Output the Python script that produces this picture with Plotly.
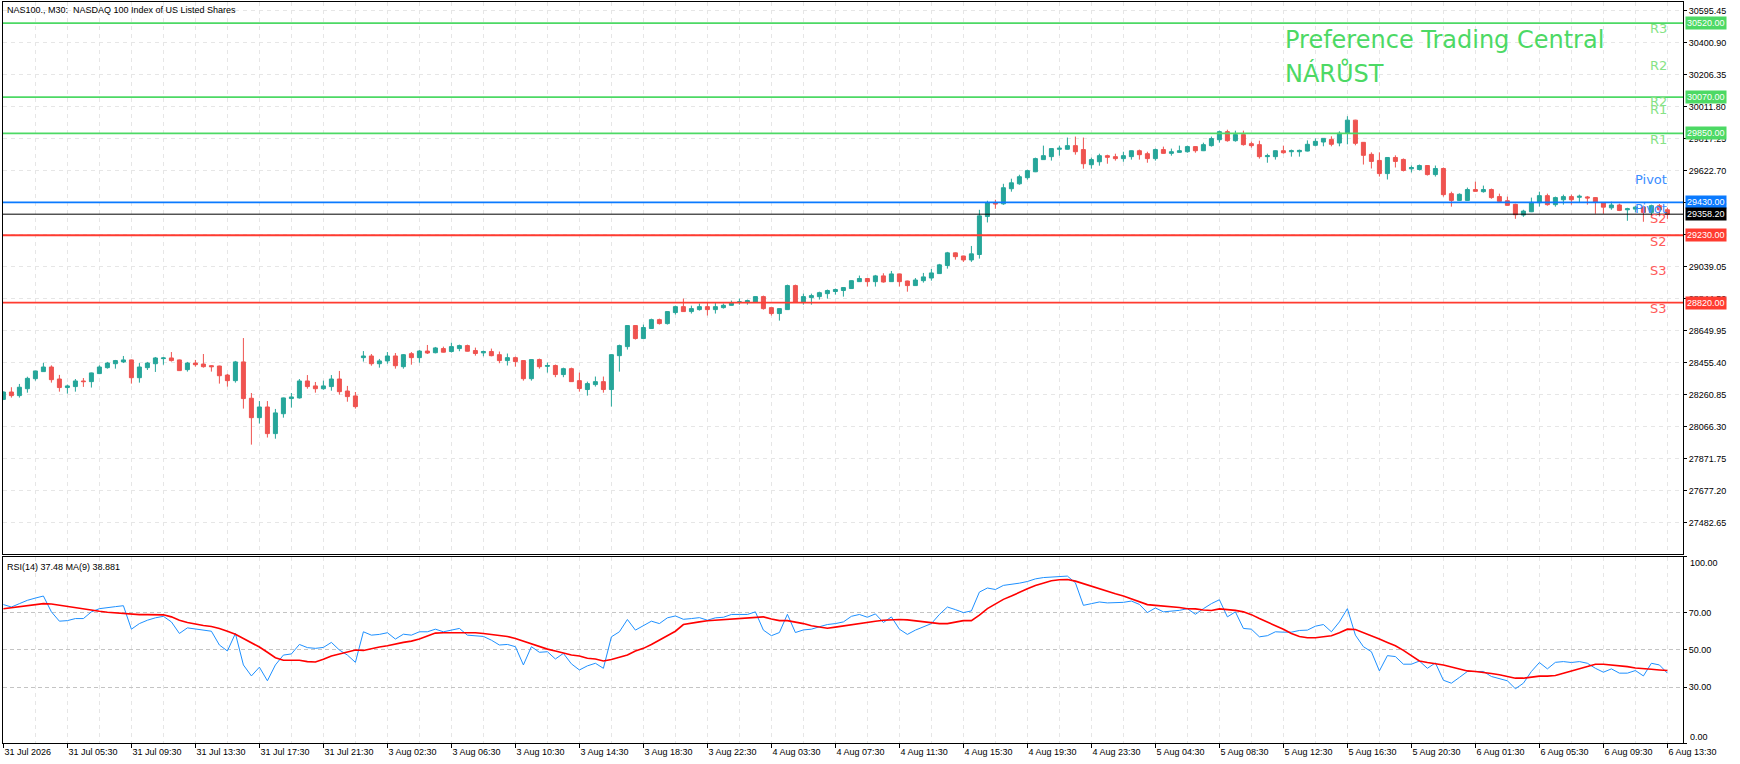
import plotly.graph_objects as go

# ---- data (NAS100., M30) ----
bar_idx = list(range(209))

opens = [
    28232, 28277, 28255, 28297, 28358, 28401, 28429, 28356, 28304, 28310,
    28344, 28340, 28389, 28425, 28449, 28460, 28472, 28364, 28425, 28449,
    28480, 28484, 28472, 28413, 28453, 28447, 28437, 28435, 28380, 28346,
    28460, 28239, 28121, 28186, 28024, 28145, 28237, 28241, 28344, 28314,
    28297, 28310, 28356, 28283, 28253, 28486, 28496, 28449, 28466, 28496,
    28431, 28510, 28486, 28526, 28516, 28541, 28523, 28541, 28559, 28529,
    28515, 28523, 28504, 28468, 28486, 28468, 28358, 28474, 28433, 28438,
    28383, 28419, 28346, 28292, 28322, 28340, 28292, 28498, 28553, 28681,
    28602, 28663, 28717, 28693, 28760, 28796, 28766, 28778, 28796, 28778,
    28790, 28804, 28821, 28821, 28821, 28857, 28790, 28754, 28778, 28924,
    28821, 28851, 28857, 28875, 28888, 28894, 28906, 28948, 28967, 28948,
    28983, 28948, 28995, 28952, 28924, 28954, 28970, 28997, 29046, 29123,
    29104, 29080, 29113, 29344, 29427, 29421, 29513, 29543, 29580, 29616,
    29690, 29708, 29753, 29753, 29775, 29751, 29659, 29677, 29714, 29708,
    29696, 29708, 29744, 29726, 29696, 29751, 29728, 29734, 29738, 29769,
    29744, 29775, 29811, 29860, 29805, 29842, 29787, 29781, 29708, 29708,
    29744, 29738, 29738, 29742, 29777, 29797, 29813, 29791, 29850, 29930,
    29795, 29722, 29685, 29605, 29703, 29691, 29634, 29630, 29654, 29599,
    29636, 29483, 29442, 29442, 29508, 29495, 29508, 29465, 29440, 29418,
    29353, 29373, 29428, 29471, 29416, 29446, 29465, 29461, 29463, 29459,
    29426, 29397, 29414, 29385, 29389, 29401, 29369, 29410, 29385,
]
highs = [
    28280, 28306, 28326, 28370, 28406, 28454, 28439, 28381, 28322, 28356,
    28362, 28395, 28439, 28460, 28472, 28496, 28474, 28453, 28460, 28490,
    28490, 28520, 28474, 28460, 28472, 28508, 28441, 28437, 28387, 28466,
    28605, 28271, 28222, 28222, 28174, 28243, 28271, 28356, 28380, 28338,
    28346, 28380, 28405, 28314, 28277, 28526, 28508, 28478, 28520, 28514,
    28508, 28520, 28532, 28563, 28551, 28553, 28577, 28565, 28565, 28547,
    28529, 28541, 28523, 28511, 28492, 28470, 28476, 28480, 28456, 28444,
    28425, 28425, 28395, 28340, 28371, 28371, 28507, 28565, 28683, 28683,
    28687, 28723, 28723, 28768, 28802, 28845, 28802, 28815, 28821, 28821,
    28815, 28833, 28845, 28839, 28859, 28863, 28792, 28786, 28930, 28930,
    28875, 28875, 28887, 28900, 28906, 28914, 28956, 28985, 28969, 28989,
    28999, 29013, 28997, 28954, 28970, 29001, 29025, 29056, 29129, 29125,
    29106, 29165, 29385, 29440, 29446, 29543, 29574, 29598, 29629, 29702,
    29775, 29758, 29775, 29824, 29830, 29824, 29702, 29726, 29720, 29726,
    29738, 29746, 29751, 29738, 29757, 29769, 29757, 29775, 29775, 29771,
    29793, 29830, 29866, 29872, 29866, 29866, 29799, 29805, 29726, 29746,
    29775, 29751, 29751, 29807, 29819, 29821, 29832, 29862, 29954, 29932,
    29797, 29734, 29734, 29705, 29716, 29697, 29654, 29660, 29656, 29654,
    29642, 29495, 29485, 29520, 29556, 29532, 29514, 29483, 29465, 29422,
    29385, 29459, 29495, 29483, 29465, 29477, 29477, 29477, 29469, 29461,
    29428, 29434, 29422, 29397, 29410, 29410, 29416, 29420, 29398,
]
lows = [
    28228, 28243, 28243, 28273, 28346, 28400, 28334, 28279, 28267, 28279,
    28308, 28304, 28386, 28419, 28419, 28453, 28328, 28334, 28411, 28399,
    28443, 28462, 28405, 28401, 28431, 28425, 28401, 28328, 28310, 28334,
    28176, 27957, 28085, 28000, 27993, 28121, 28182, 28237, 28297, 28273,
    28291, 28285, 28261, 28218, 28176, 28462, 28437, 28425, 28449, 28419,
    28419, 28443, 28455, 28508, 28512, 28517, 28517, 28525, 28523, 28498,
    28494, 28494, 28452, 28438, 28431, 28346, 28346, 28419, 28395, 28367,
    28367, 28338, 28279, 28255, 28310, 28273, 28188, 28401, 28535, 28596,
    28600, 28660, 28687, 28687, 28748, 28764, 28754, 28772, 28742, 28754,
    28784, 28802, 28808, 28808, 28819, 28778, 28742, 28711, 28776, 28819,
    28808, 28808, 28839, 28845, 28869, 28857, 28904, 28946, 28918, 28918,
    28942, 28946, 28918, 28887, 28922, 28942, 28954, 28995, 29027, 29082,
    29068, 29068, 29088, 29308, 29391, 29415, 29495, 29537, 29568, 29614,
    29688, 29684, 29714, 29751, 29720, 29635, 29635, 29653, 29665, 29684,
    29677, 29690, 29690, 29671, 29684, 29726, 29714, 29732, 29732, 29732,
    29742, 29769, 29793, 29799, 29799, 29775, 29763, 29696, 29671, 29690,
    29726, 29708, 29708, 29740, 29771, 29771, 29771, 29771, 29783, 29777,
    29660, 29636, 29587, 29569, 29642, 29618, 29612, 29624, 29593, 29587,
    29465, 29404, 29440, 29440, 29495, 29489, 29452, 29428, 29410, 29330,
    29342, 29371, 29404, 29410, 29404, 29416, 29416, 29428, 29416, 29361,
    29361, 29385, 29377, 29318, 29369, 29312, 29348, 29345, 29330,
]
closes = [
    28277, 28255, 28306, 28360, 28405, 28429, 28352, 28304, 28314, 28344,
    28340, 28393, 28429, 28453, 28468, 28472, 28364, 28429, 28453, 28484,
    28484, 28468, 28407, 28453, 28443, 28431, 28431, 28376, 28346, 28460,
    28237, 28121, 28186, 28024, 28150, 28241, 28247, 28344, 28310, 28297,
    28314, 28356, 28279, 28249, 28188, 28496, 28449, 28466, 28496, 28437,
    28504, 28486, 28526, 28514, 28545, 28519, 28553, 28559, 28525, 28511,
    28523, 28498, 28468, 28486, 28462, 28358, 28474, 28431, 28438, 28383,
    28419, 28340, 28298, 28328, 28340, 28292, 28504, 28559, 28681, 28602,
    28669, 28717, 28693, 28766, 28796, 28766, 28784, 28796, 28778, 28796,
    28804, 28821, 28825, 28833, 28857, 28784, 28754, 28784, 28924, 28821,
    28857, 28863, 28881, 28894, 28900, 28912, 28954, 28967, 28948, 28983,
    28946, 28995, 28948, 28924, 28958, 28977, 29001, 29050, 29123, 29100,
    29080, 29117, 29348, 29427, 29421, 29519, 29549, 29586, 29623, 29696,
    29714, 29757, 29759, 29775, 29738, 29665, 29690, 29714, 29704, 29696,
    29714, 29744, 29720, 29696, 29751, 29728, 29738, 29744, 29769, 29744,
    29781, 29818, 29860, 29805, 29842, 29781, 29775, 29708, 29714, 29744,
    29732, 29744, 29746, 29783, 29801, 29819, 29783, 29850, 29930, 29789,
    29716, 29679, 29605, 29703, 29679, 29624, 29642, 29654, 29599, 29636,
    29477, 29442, 29479, 29508, 29497, 29508, 29459, 29436, 29412, 29355,
    29377, 29430, 29471, 29416, 29459, 29465, 29446, 29467, 29457, 29430,
    29401, 29414, 29381, 29391, 29401, 29369, 29410, 29385, 29358.2,
]

rsi = [
    74.3, 73.0, 74.8, 76.6, 77.8, 78.9, 70.4, 65.4, 65.7, 66.8,
    66.8, 70.4, 72.1, 72.8, 73.2, 73.7, 61.1, 64.1, 65.9, 67.2,
    68.0, 65.0, 58.8, 61.8, 61.1, 60.6, 60.0, 52.6, 49.4, 58.8,
    41.9, 36.0, 40.7, 33.4, 41.9, 47.2, 47.8, 52.9, 51.2, 50.8,
    51.3, 54.0, 49.9, 47.2, 43.3, 59.7, 57.9, 58.3, 59.2, 55.8,
    58.4, 57.9, 59.7, 59.7, 61.1, 59.7, 60.6, 61.5, 57.9, 57.6,
    57.2, 55.2, 52.6, 52.9, 51.7, 41.9, 51.7, 48.7, 49.0, 45.1,
    48.1, 42.5, 39.2, 41.4, 42.8, 40.1, 57.0, 59.7, 66.3, 60.6,
    63.2, 65.4, 64.1, 67.2, 68.2, 66.4, 66.8, 67.3, 65.9, 67.2,
    67.5, 69.0, 69.0, 69.0, 70.4, 60.6, 57.6, 59.3, 69.1, 59.3,
    60.7, 61.1, 62.4, 63.6, 64.1, 65.0, 68.0, 69.0, 67.5, 69.3,
    64.7, 67.7, 61.1, 58.3, 60.6, 62.4, 64.1, 69.0, 73.0, 71.6,
    70.0, 70.9, 81.0, 83.2, 82.4, 84.6, 85.1, 85.8, 86.7, 88.1,
    88.8, 89.2, 89.4, 89.6, 86.0, 73.9, 74.8, 75.7, 75.2, 75.2,
    75.5, 76.2, 74.4, 70.0, 72.5, 70.4, 70.7, 71.2, 72.1, 69.1,
    72.1, 74.8, 76.9, 67.7, 70.4, 61.5, 61.1, 57.0, 57.6, 59.7,
    59.5, 59.5, 60.4, 60.6, 62.7, 63.6, 59.7, 65.0, 72.1, 57.9,
    51.7, 49.0, 38.7, 46.9, 46.4, 42.3, 42.3, 44.0, 40.1, 43.0,
    33.7, 32.1, 35.2, 38.4, 38.4, 38.4, 35.7, 34.5, 33.4, 29.1,
    32.1, 38.4, 43.2, 39.8, 43.3, 43.7, 43.2, 43.7, 42.8, 40.1,
    38.0, 39.8, 37.5, 37.5, 38.9, 36.0, 42.8, 41.9, 37.48,
]
rsi_ma = [
    72.1, 72.7, 73.4, 73.9, 74.6, 74.8, 74.6, 73.9, 73.4, 72.7,
    72.1, 71.2, 70.7, 70.2, 69.8, 69.5, 69.1, 68.9, 68.9, 68.9,
    68.8, 67.7, 65.9, 64.7, 63.8, 63.1, 62.5, 61.5, 60.0, 58.4,
    56.1, 53.8, 51.5, 48.7, 45.8, 44.4, 44.2, 44.4, 43.7, 43.5,
    44.9, 46.7, 47.8, 49.0, 49.9, 49.7, 50.8, 51.5, 52.2, 53.3,
    54.0, 54.7, 55.8, 57.4, 59.0, 59.2, 59.2, 59.3, 59.5, 59.2,
    58.8, 58.3, 57.9, 57.2, 56.1, 54.7, 52.9, 51.7, 50.4, 49.4,
    48.1, 47.2, 46.7, 45.5, 45.1, 44.0, 44.8, 45.8, 47.2, 49.4,
    50.8, 52.9, 55.2, 57.6, 60.0, 63.6, 64.5, 65.0, 65.6, 65.9,
    66.3, 66.6, 67.2, 67.5, 67.7, 67.7, 66.6, 65.7, 65.7, 65.0,
    64.1, 62.9, 62.4, 61.6, 62.2, 62.9, 63.4, 64.1, 64.8, 65.4,
    65.9, 66.3, 66.3, 66.1, 65.6, 65.0, 64.3, 64.1, 64.1, 65.0,
    65.7, 65.7, 68.6, 72.1, 74.8, 77.1, 78.9, 81.0, 82.8, 84.6,
    86.0, 87.1, 87.6, 87.8, 86.9, 85.5, 84.0, 82.8, 81.6, 80.1,
    78.9, 77.5, 75.7, 74.3, 73.9, 73.6, 73.0, 72.7, 72.1, 72.0,
    71.4, 71.1, 72.0, 71.8, 71.2, 70.4, 68.9, 66.8, 65.0, 63.2,
    61.1, 58.8, 57.2, 56.5, 56.5, 57.0, 57.6, 59.2, 61.1, 60.9,
    59.3, 57.4, 55.8, 54.0, 52.2, 49.7, 46.9, 44.0, 43.2, 42.6,
    41.9, 40.8, 39.6, 38.7, 38.4, 38.0, 37.3, 36.6, 35.7, 34.8,
    34.8, 35.5, 35.9, 35.9, 36.2, 37.5, 38.7, 40.1, 41.5, 42.3,
    42.3, 41.9, 41.4, 41.0, 40.3, 39.8, 39.6, 39.2, 38.881,
]

time_labels = [
    "31 Jul 2026", "31 Jul 05:30", "31 Jul 09:30", "31 Jul 13:30", "31 Jul 17:30",
    "31 Jul 21:30", "3 Aug 02:30", "3 Aug 06:30", "3 Aug 10:30", "3 Aug 14:30",
    "3 Aug 18:30", "3 Aug 22:30", "4 Aug 03:30", "4 Aug 07:30", "4 Aug 11:30",
    "4 Aug 15:30", "4 Aug 19:30", "4 Aug 23:30", "5 Aug 04:30", "5 Aug 08:30",
    "5 Aug 12:30", "5 Aug 16:30", "5 Aug 20:30", "6 Aug 01:30", "6 Aug 05:30",
    "6 Aug 09:30", "6 Aug 13:30",
]
price_ticks = [
    27482.65, 27677.20, 27871.75, 28066.30, 28260.85, 28455.40, 28649.95, 28844.50,
    29039.05, 29233.60, 29428.15, 29622.70, 29817.25, 30011.80, 30206.35, 30400.90,
    30595.45,
]
rsi_ticks = [30, 50, 70]

level_names = ["R3", "R2", "R1", "Pivot", "S2", "S3"]
level_values = [30520.00, 30070.00, 29850.00, 29430.00, 29230.00, 28820.00]

# ---- styling ----
GREEN = "#4cd964"
BLUE = "#0a7aff"
RED = "#ff3b30"
UP = "#26a69a"
DOWN = "#ef5350"
GRID = "#e6e6e6"
SMALL = dict(family="Liberation Sans, Arial", size=9, color="black")

level_colors = {"R": GREEN, "P": BLUE, "S": RED}
tag_colors = {"R": "#86e386", "P": "#3a8dff", "S": "#ff5a5a"}

fig = go.Figure()

fig.add_trace(go.Candlestick(
    x=bar_idx, open=opens, high=highs, low=lows, close=closes,
    increasing=dict(line=dict(color=UP, width=1), fillcolor=UP),
    decreasing=dict(line=dict(color=DOWN, width=1), fillcolor=DOWN),
    whiskerwidth=0, xaxis="x", yaxis="y", showlegend=False,
))
fig.add_trace(go.Scatter(
    x=bar_idx, y=rsi, mode="lines", line=dict(color="#1e90ff", width=1),
    xaxis="x2", yaxis="y2", showlegend=False,
))
fig.add_trace(go.Scatter(
    x=bar_idx, y=rsi_ma, mode="lines", line=dict(color="#ff0000", width=1.6),
    xaxis="x2", yaxis="y2", showlegend=False,
))

shapes = []
annotations = []
for name, val in zip(level_names, level_values):
    col = level_colors[name[0]]
    shapes.append(dict(type="line", xref="paper", x0=0, x1=1, yref="y", y0=val, y1=val,
                       line=dict(color=col, width=1.8), layer="above"))
    annotations.append(dict(xref="paper", x=1, xanchor="left", xshift=2, yref="y", y=val,
                            text=f"{val:.2f}", showarrow=False, bgcolor=col, borderpad=1,
                            font=dict(family="Liberation Sans, Arial", size=9, color="white")))

# current price line + box
last = closes[-1]
shapes.append(dict(type="line", xref="paper", x0=0, x1=1, yref="y", y0=last, y1=last,
                   line=dict(color="black", width=1), layer="above"))
annotations.append(dict(xref="paper", x=1, xanchor="left", xshift=2, yref="y", y=last,
                        text=f"{last:.2f}", showarrow=False, bgcolor="black", borderpad=1,
                        font=dict(family="Liberation Sans, Arial", size=9, color="white")))

# pivot tags drawn by the indicator (two overlapping sets)
tags = [("R3", 30488), ("R2", 30261), ("R2", 30042), ("R1", 29996), ("R1", 29813),
        ("Pivot", 29570), ("Pivot", 29390), ("S2", 29333), ("S2", 29191),
        ("S3", 29015), ("S3", 28786)]
for txt, yv in tags:
    annotations.append(dict(xref="paper", x=0.9915, xanchor="right", yref="y", y=yv,
                            text=txt, showarrow=False,
                            font=dict(family="DejaVu Sans", size=13, color=tag_colors[txt[0]])))

annotations += [
    dict(xref="paper", yref="paper", x=0.7619, y=0.9491, xanchor="left", yanchor="middle",
         text="Preference Trading Central", showarrow=False,
         font=dict(family="DejaVu Sans", size=24, color=GREEN)),
    dict(xref="paper", yref="paper", x=0.7619, y=0.9045, xanchor="left", yanchor="middle",
         text="NÁRŮST", showarrow=False,
         font=dict(family="DejaVu Sans", size=24, color=GREEN)),
    dict(xref="paper", yref="paper", x=0, xshift=2, y=0.9892, xanchor="left", yanchor="middle",
         text="NAS100., M30:\u00a0 NASDAQ 100 Index of US Listed Shares", showarrow=False,
         font=SMALL),
    dict(xref="paper", yref="paper", x=0, xshift=2, y=0.2375, xanchor="left", yanchor="middle",
         text="RSI(14) 37.48 MA(9) 38.881", showarrow=False, font=SMALL),
    dict(xref="paper", yref="y2", x=1, xshift=5, y=100, yshift=-6, xanchor="left",
         text="100.00", showarrow=False, font=SMALL),
    dict(xref="paper", yref="y2", x=1, xshift=5, y=0, yshift=6, xanchor="left",
         text="0.00", showarrow=False, font=SMALL),
]

xr = [-0.05, 209.95]
axis_common = dict(showline=True, linecolor="black", linewidth=1, mirror=True,
                   zeroline=False, automargin=False)

fig.update_layout(
    width=1740, height=764,
    margin=dict(l=3, r=57, t=2, b=21, autoexpand=False),
    paper_bgcolor="white", plot_bgcolor="white",
    boxgap=0.5, boxgroupgap=0,
    showlegend=False,
    xaxis=dict(domain=[0, 1], anchor="y", range=xr, tickmode="linear", tick0=0, dtick=4,
               showticklabels=False, ticks="", showgrid=True, gridcolor=GRID,
               griddash="4px,4px", rangeslider=dict(visible=False), **axis_common),
    yaxis=dict(domain=[0.2547, 1], anchor="x", side="right", range=[27290.4, 30648.3],
               tickmode="array", tickvals=price_ticks,
               ticktext=[f"{v:.2f}" for v in price_ticks],
               ticks="outside", ticklen=3, tickcolor="black", tickfont=SMALL,
               showgrid=True, gridcolor=GRID, griddash="4px,4px", **axis_common),
    xaxis2=dict(domain=[0, 1], anchor="y2", range=xr, tickmode="array",
                tickvals=bar_idx[::8], ticktext=time_labels,
                ticks="outside", ticklen=4, tickcolor="black", tickfont=SMALL,
                ticklabelposition="outside right",
                showgrid=True, gridcolor=GRID, griddash="4px,4px",
                minor=dict(tickmode="linear", tick0=0, dtick=4, showgrid=True,
                           gridcolor=GRID, griddash="4px,4px", ticks=""),
                **axis_common),
    yaxis2=dict(domain=[0, 0.2514], anchor="x2", side="right", range=[0, 100],
                tickmode="array", tickvals=[0] + rsi_ticks + [100],
                ticktext=[""] + [f"{v:.2f}" for v in rsi_ticks] + [""],
                ticks="outside", ticklen=3, tickcolor="black", tickfont=SMALL,
                showgrid=True, gridcolor="#c4c4c4", griddash="4px,3px", **axis_common),
    shapes=shapes,
    annotations=annotations,
)

# the page body has a default 8px margin; drop it so the chart fills the window
fig.write_html("out.html", config={"displayModeBar": False},
               post_script="document.body.style.margin='0';")
